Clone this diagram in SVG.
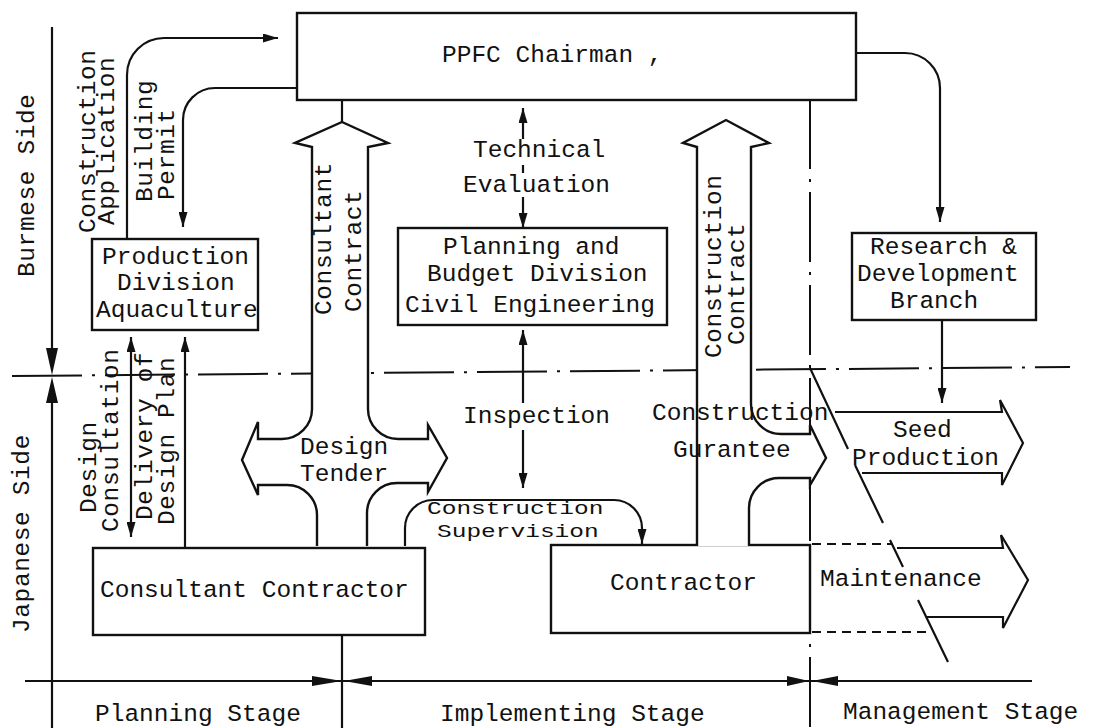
<svg xmlns="http://www.w3.org/2000/svg" width="1102" height="728" viewBox="0 0 1102 728">
<style>
text{font-family:"Liberation Mono","Courier New",monospace;font-size:24.5px;fill:#111}
.v{letter-spacing:0.6px}
.box{fill:#fff;stroke:#111;stroke-width:2.4}
.ln{fill:none;stroke:#111;stroke-width:2.2}
.big{fill:#fff;stroke:#111;stroke-width:2.4;stroke-linejoin:miter}
.dd{fill:none;stroke:#111;stroke-width:2;stroke-dasharray:70 10 3 10}
.dash{fill:none;stroke:#111;stroke-width:2;stroke-dasharray:9 6}
.ah{fill:#111;stroke:none}
</style>
<defs>
<marker id="arr" markerUnits="userSpaceOnUse" markerWidth="15" markerHeight="9" refX="15" refY="4.5" orient="auto-start-reverse">
<path d="M0,0 L15,4.5 L0,9 z" fill="#111"/>
</marker>
</defs>
<rect width="1102" height="728" fill="#fff"/>
<g id="connectors">
<line class="dd" x1="12" y1="376" x2="1070" y2="367"/>
<path class="ln" d="M52,27 V350 M52,401 V728"/>
<polygon class="ah" points="46,348 58,348 52,375"/>
<polygon class="ah" points="46,403 58,403 52,377"/>
<path class="ln" d="M25,681 H1032"/>
<polygon class="ah" points="312,676 312,686 342,681"/>
<polygon class="ah" points="372,676 372,686 344,681"/>
<polygon class="ah" points="787,676 787,686 809,681"/>
<polygon class="ah" points="838,676 838,686 812,681"/>
<line class="ln" x1="342" y1="635" x2="342" y2="728"/>
<line class="dd" x1="810" y1="99" x2="810" y2="728"/>
<path class="ln" stroke-width="1.8" d="M810,368 L848,449 M855,465 L883,523 M890,540 L903,567 M918,600 L948,662"/>
<path class="ln" marker-end="url(#arr)" d="M127,239 V75 A37,37 0 0 1 164,38 H278"/>
<path class="ln" marker-end="url(#arr)" d="M297,88 H215 A32,32 0 0 0 183,120 V227"/>
<line class="ln" x1="131" y1="337" x2="131" y2="537" marker-start="url(#arr)" marker-end="url(#arr)"/>
<line class="ln" x1="185" y1="548" x2="185" y2="337" marker-end="url(#arr)"/>
<path class="ln" marker-start="url(#arr)" d="M523,108 V139"/>
<path class="ln" d="M523,165 V173"/>
<path class="ln" marker-end="url(#arr)" d="M523,197 V228"/>
<path class="ln" marker-start="url(#arr)" d="M523,330 V403"/>
<path class="ln" marker-end="url(#arr)" d="M523,430 V488"/>
<path class="ln" marker-end="url(#arr)" d="M405,546 V528 A28,28 0 0 1 433,500 H614 A28,28 0 0 1 642,528 V544"/>
<path class="ln" marker-end="url(#arr)" d="M856,53 H905 A35,35 0 0 1 940,88 V222"/>
<path class="ln" marker-end="url(#arr)" d="M942,320 V403"/>
<line class="ln" x1="342" y1="100" x2="342" y2="122"/>
<path class="dash" d="M812,544 H892 M812,632 H927"/>
</g>
<g id="ppfc">
<rect class="box" x="297" y="13" width="559" height="87"/>
<text x="442" y="62">PPFC Chairman ,</text>
</g>
<g id="production-division">
<rect class="box" x="92" y="239" width="166" height="91"/>
<text x="102" y="264">Production</text>
<text x="117" y="290">Division</text>
<text x="96" y="317">Aquaculture</text>
</g>
<g id="planning-division">
<rect class="box" x="398" y="228" width="269" height="97"/>
<text x="443" y="254">Planning and</text>
<text x="427" y="281">Budget Division</text>
<text x="405" y="312">Civil Engineering</text>
</g>
<g id="research-branch">
<rect class="box" x="852" y="233" width="184" height="87"/>
<text x="870" y="254">Research &amp;</text>
<text x="857" y="281">Development</text>
<text x="890" y="308">Branch</text>
</g>
<g id="consultant-contractor">
<rect class="box" x="93" y="548" width="332" height="87"/>
<text x="100" y="597">Consultant Contractor</text>
</g>
<g id="contractor">
<rect class="box" x="551" y="545" width="259" height="88"/>
<text x="610" y="590">Contractor</text>
</g>
<g id="consultant-contract-design-tender">
<path class="big" d="M317,546 V515 A30,30 0 0 0 287,485 H258 V495 L242,460 L258,422 V439 H282 A30,30 0 0 0 312,409 V147 L295,143 L342,122 L388,143 L368,147 V409 A30,30 0 0 0 398,439 H428 V425 L447,458 L428,492 V483 H397 A30,30 0 0 0 367,513 V546"/>
<text class="v" transform="translate(331,315) rotate(-90)">Consultant</text>
<text class="v" transform="translate(361,312) rotate(-90)">Contract</text>
<text x="300" y="454">Design</text>
<text x="300" y="481">Tender</text>
</g>
<g id="construction-contract-gurantee">
<path class="big" d="M697,546 V147 L683,143 L726,120 L769,143 L751,147 V404 A30,30 0 0 0 781,434 H810 V425 L826,458 L810,485 V478 H779 A30,30 0 0 0 749,508 V546"/>
<text class="v" transform="translate(721,358) rotate(-90)">Construction</text>
<text class="v" transform="translate(744,345) rotate(-90)">Contract</text>
<text x="652" y="420">Construction</text>
<text x="673" y="457">Gurantee</text>
</g>
<g id="seed-production">
<path class="ln" d="M835,412 H1002 L1000,400 L1023,443 L1002,485 V473 H862"/>
<text x="893" y="437">Seed</text>
<text x="852" y="465">Production</text>
</g>
<g id="maintenance">
<path class="ln" d="M897,548 H1003 L1001,535 L1028,580 L1003,628 V617 H927"/>
<text x="820" y="586">Maintenance</text>
</g>
<g id="labels">
<text class="v" transform="translate(34,277) rotate(-90)">Burmese Side</text>
<text class="v" transform="translate(29,633) rotate(-90)">Japanese Side</text>
<text class="v" transform="translate(95,233) rotate(-90)">Construction</text>
<text class="v" transform="translate(114,225) rotate(-90)">Application</text>
<text class="v" transform="translate(152,202) rotate(-90)">Building</text>
<text class="v" transform="translate(174,200) rotate(-90)">Permit</text>
<text class="v" transform="translate(96,513) rotate(-90)">Design</text>
<text class="v" transform="translate(118,532) rotate(-90)">Consultation</text>
<text class="v" transform="translate(152,520) rotate(-90)">Delivery of</text>
<text class="v" transform="translate(174,525) rotate(-90)">Design Plan</text>
<text x="473" y="157">Technical</text>
<text x="463" y="192">Evaluation</text>
<text x="463" y="423">Inspection</text>
<text transform="translate(427,514) scale(1,0.74)">Construction</text>
<text transform="translate(437,537) scale(1,0.74)">Supervision</text>
<text x="95" y="721">Planning Stage</text>
<text x="440" y="721">Implementing Stage</text>
<text x="843" y="719">Management Stage</text>
</g>
</svg>
